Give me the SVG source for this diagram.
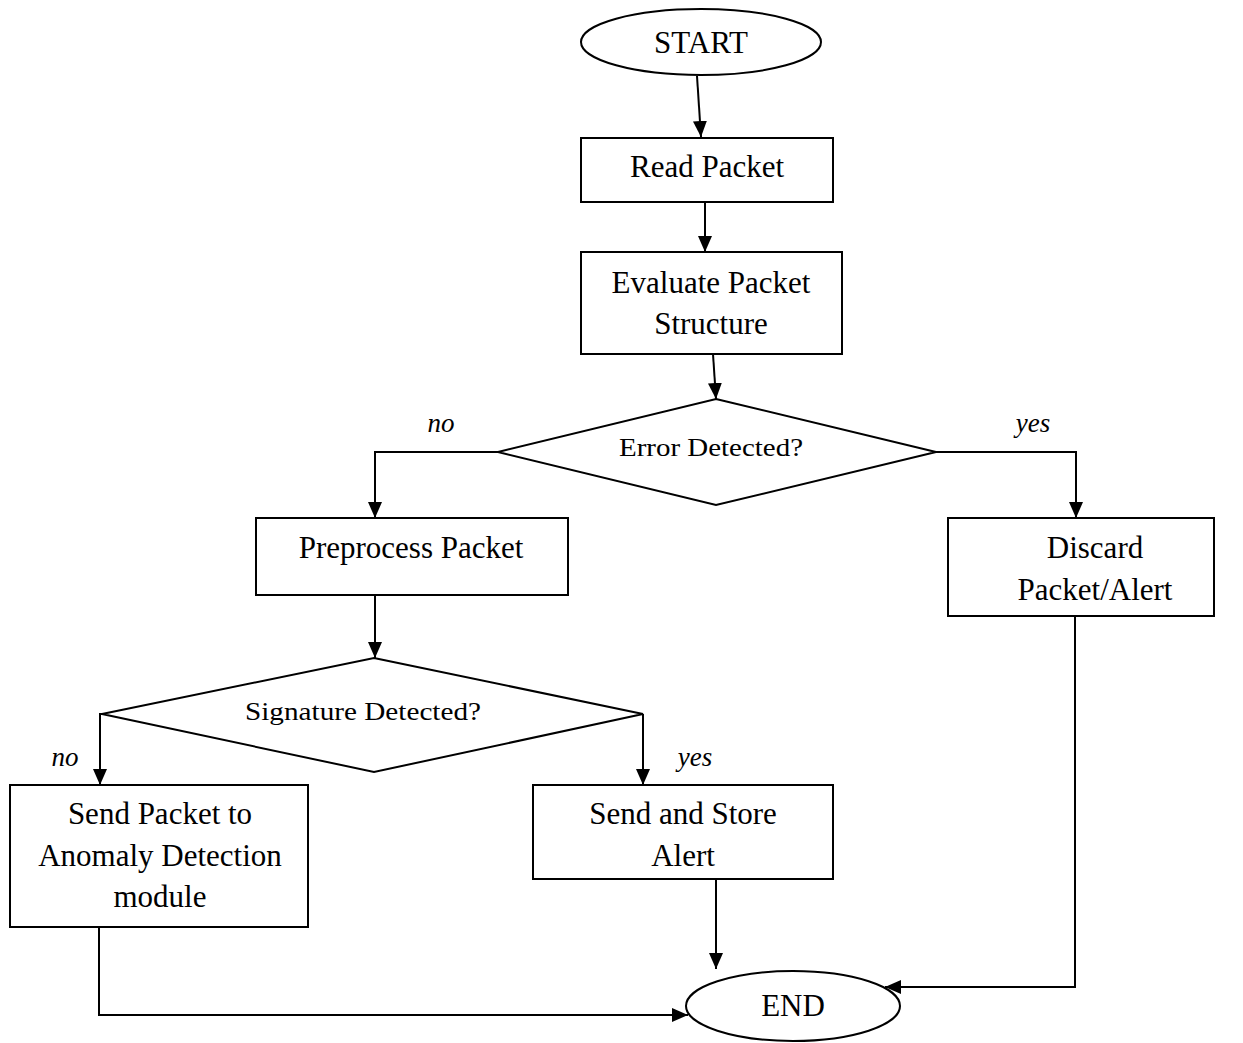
<svg xmlns="http://www.w3.org/2000/svg" width="1243" height="1043" viewBox="0 0 1243 1043">
  <style>
    .shape { fill: #fff; stroke: #000; stroke-width: 2; }
    .conn { fill: none; stroke: #000; stroke-width: 2; }
    .t { font-family: "Liberation Serif", "Times New Roman", serif; fill: #000; text-anchor: middle; }
    .box { font-size: 31px; }
    .dec { font-size: 26px; }
    .lbl { font-size: 27px; font-style: italic; }
  </style>
  <defs>
    <marker id="arrow" viewBox="0 0 16 14" refX="16" refY="7" markerWidth="16" markerHeight="14" markerUnits="userSpaceOnUse" orient="auto">
      <path d="M0,0 L16,7 L0,14 Z" fill="#000"/>
    </marker>
  </defs>
  <rect width="1243" height="1043" fill="#fff"/>

  <!-- connectors -->
  <g id="connectors">
    <path class="conn" d="M697,76 L701,137" marker-end="url(#arrow)"/>
    <path class="conn" d="M705,202 V252" marker-end="url(#arrow)"/>
    <path class="conn" d="M713,354 L716,399" marker-end="url(#arrow)"/>
    <path class="conn" d="M498,452 H375 V518" marker-end="url(#arrow)"/>
    <path class="conn" d="M936,452 H1076 V518" marker-end="url(#arrow)"/>
    <path class="conn" d="M375,595 V658" marker-end="url(#arrow)"/>
    <path class="conn" d="M102,714 H100 V785" marker-end="url(#arrow)"/>
    <path class="conn" d="M643,714 V785" marker-end="url(#arrow)"/>
    <path class="conn" d="M716,879 V969" marker-end="url(#arrow)"/>
    <path class="conn" d="M99,927 V1015 H688" marker-end="url(#arrow)"/>
    <path class="conn" d="M1075,616 V987 H885" marker-end="url(#arrow)"/>
  </g>

  <!-- branch labels -->
  <g id="labels">
    <text class="t lbl" x="441" y="432">no</text>
    <text class="t lbl" x="1033" y="432">yes</text>
    <text class="t lbl" x="65" y="766">no</text>
    <text class="t lbl" x="695" y="766">yes</text>
  </g>

  <g id="start">
    <ellipse class="shape" cx="701" cy="42" rx="120" ry="33"/>
    <text class="t box" x="701" y="53">START</text>
  </g>

  <g id="read-packet">
    <rect class="shape" x="581" y="138" width="252" height="64"/>
    <text class="t box" x="707" y="177">Read Packet</text>
  </g>

  <g id="evaluate-structure">
    <rect class="shape" x="581" y="252" width="261" height="102"/>
    <text class="t box" x="711" y="293">Evaluate Packet</text>
    <text class="t box" x="711" y="334">Structure</text>
  </g>

  <g id="error-detected">
    <polygon class="shape" points="716,399 936,452 716,505 498,452"/>
    <text class="t dec" x="711" y="456" textLength="184" lengthAdjust="spacingAndGlyphs">Error Detected?</text>
  </g>

  <g id="preprocess">
    <rect class="shape" x="256" y="518" width="312" height="77"/>
    <text class="t box" x="411" y="558">Preprocess Packet</text>
  </g>

  <g id="discard">
    <rect class="shape" x="948" y="518" width="266" height="98"/>
    <text class="t box" x="1095" y="558">Discard</text>
    <text class="t box" x="1095" y="600">Packet/Alert</text>
  </g>

  <g id="signature-detected">
    <polygon class="shape" points="374,658 643,714 374,772 102,714"/>
    <text class="t dec" x="363" y="720" textLength="236" lengthAdjust="spacingAndGlyphs">Signature Detected?</text>
  </g>

  <g id="send-anomaly">
    <rect class="shape" x="10" y="785" width="298" height="142"/>
    <text class="t box" x="160" y="824">Send Packet to</text>
    <text class="t box" x="160" y="866">Anomaly Detection</text>
    <text class="t box" x="160" y="907">module</text>
  </g>

  <g id="send-store">
    <rect class="shape" x="533" y="785" width="300" height="94"/>
    <text class="t box" x="683" y="824">Send and Store</text>
    <text class="t box" x="683" y="866">Alert</text>
  </g>

  <g id="end">
    <ellipse class="shape" cx="793" cy="1006" rx="107" ry="35"/>
    <text class="t box" x="793" y="1016">END</text>
  </g>
</svg>
